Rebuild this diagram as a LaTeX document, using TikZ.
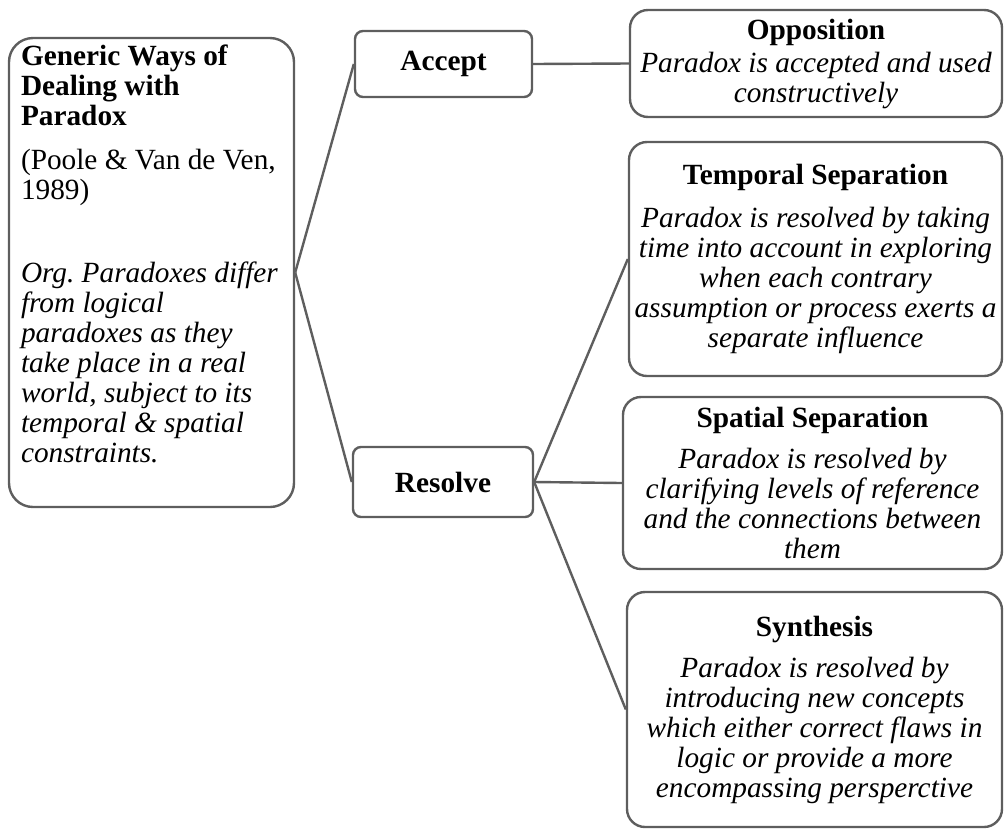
\documentclass[tikz,border=0pt]{standalone}
\usepackage{fontspec}
\setmainfont{Liberation Serif}
\definecolor{linegray}{HTML}{5E5E5E}
\frenchspacing
\begin{document}
\begin{tikzpicture}[x=1pt,y=-1pt,
  box/.style={draw=linegray, line width=2.4pt, rounded corners=#1, inner sep=0pt,
    font=\fontsize{29.3}{30}\selectfont, align=center},
  conn/.style={draw=linegray, line width=2.4pt}]
\useasboundingbox (0,0) rectangle (1004,831);

% root box with the heading, citation and note
\node[box=24pt, minimum width=285pt, minimum height=469pt] (root) at (151.5,272.5)
  {\parbox[c][469pt][t]{261pt}{\raggedright\vspace*{7pt}%
   \textbf{Generic Ways of}\\
   \textbf{Dealing with}\\
   \textbf{Paradox}\\[14pt]
   (Poole \& Van de Ven,\\
   1989)\\[53pt]
   \itshape Org. Paradoxes differ\\
   from logical\\
   paradoxes as they\\
   take place in a real\\
   world, subject to its\\
   temporal \& spatial\\
   constraints.}};

% the two strategies
\node[box=8pt, minimum width=177pt, minimum height=66pt] (accept) at (443.5,64) {\textbf{Accept}};
\node[box=8pt, minimum width=180pt, minimum height=70pt] (resolve) at (443,482) {\textbf{Resolve}};

% the four modes
\node[box=18pt, minimum width=372pt, minimum height=107pt] (opposition) at (816,63.5)
  {\textbf{Opposition}\\[3pt]
   \itshape Paradox is accepted and used\\
   \itshape constructively};
\node[box=18pt, minimum width=373pt, minimum height=234pt] (temporal) at (815.5,259)
  {\textbf{Temporal Separation}\\[13pt]
   \itshape Paradox is resolved by taking\\
   \itshape time into account in exploring\\
   \itshape when each contrary\\
   \itshape assumption or process exerts a\\
   \itshape separate influence};
\node[box=18pt, minimum width=379pt, minimum height=172pt] (spatial) at (812.5,483)
  {\textbf{Spatial Separation}\\[11pt]
   \itshape Paradox is resolved by\\
   \itshape clarifying levels of reference\\
   \itshape and the connections between\\
   \itshape them};
\node[box=18pt, minimum width=375pt, minimum height=235pt] (synthesis) at (814.5,709.5)
  {\textbf{Synthesis}\\[11pt]
   \itshape Paradox is resolved by\\
   \itshape introducing new concepts\\
   \itshape which either correct flaws in\\
   \itshape logic or provide a more\\
   \itshape encompassing persperctive};

% connectors
\draw[conn] (root.east) -- (accept.west);
\draw[conn] (root.east) -- (resolve.west);
\draw[conn] (accept.east) -- (opposition.west);
\draw[conn] (resolve.east) -- (temporal.west);
\draw[conn] (resolve.east) -- (spatial.west);
\draw[conn] (resolve.east) -- (synthesis.west);
\end{tikzpicture}
\end{document}
